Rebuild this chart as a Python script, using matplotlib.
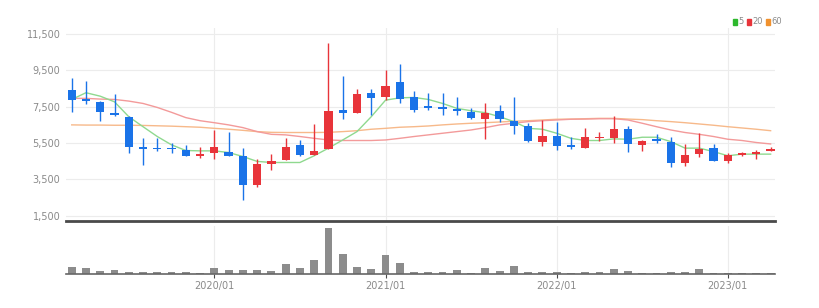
import matplotlib
matplotlib.use("Agg")
import matplotlib.pyplot as plt
from matplotlib.patches import Rectangle

months = ["2019/%02d" % m for m in range(3, 13)] + \
         ["2020/%02d" % m for m in range(1, 13)] + \
         ["2021/%02d" % m for m in range(1, 13)] + \
         ["2022/%02d" % m for m in range(1, 13)] + \
         ["2023/%02d" % m for m in range(1, 5)]

opens = [8400, 7900, 7760, 7160, 6940, 5260, 5210, 5210, 5115, 4790,
         4930, 4990, 4790, 3160, 4330, 4530, 5390, 4840, 5150, 7310,
         7160, 8220, 8000, 8860, 8040, 7510, 7490, 7360, 7220, 6800,
         7270, 6720, 6430, 5570, 5880, 5370, 5240, 5750, 5750, 6270,
         5390, 5700, 5570, 4390, 4900, 5210, 4480, 4840, 4880, 5060]
highs = [9080, 8900, 7800, 8170, 6980, 5750, 5750, 5480, 5390, 5260,
         6210, 6080, 5240, 4600, 4880, 5750, 5660, 6540, 11010, 9170,
         8490, 8460, 9500, 9860, 8350, 8270, 8220, 8040, 7400, 7670,
         7580, 8000, 6580, 6760, 6630, 5850, 6300, 6120, 6980, 6430,
         5660, 5990, 5850, 5440, 6070, 5440, 4930, 5020, 5120, 5260]
lows = [7215, 7635, 6720, 7000, 4930, 4260, 5080, 4930, 4750, 4660,
        4600, 4790, 2380, 3050, 4020, 4530, 4750, 4840, 5150, 6800,
        7160, 7030, 7855, 7670, 7220, 7310, 7030, 7030, 6810, 5720,
        6630, 6000, 5540, 5330, 5120, 5150, 5240, 5630, 5480, 5020,
        5080, 5480, 4170, 4240, 4710, 4480, 4390, 4750, 4600, 5060]
closes = [7855, 7820, 7215, 7030, 5260, 5190, 5150, 5150, 4790, 4900,
          5260, 4790, 3200, 4350, 4510, 5300, 4840, 5060, 7270, 7160,
          8180, 7950, 8640, 7910, 7310, 7430, 7380, 7270, 6850, 7120,
          6810, 6450, 5610, 5880, 5330, 5300, 5810, 5850, 6270, 5440,
          5630, 5630, 4390, 4840, 5150, 4480, 4840, 4930, 5020, 5150]
volumes = [200, 180, 100, 110, 70, 70, 50, 50, 50, 30,
           180, 110, 110, 110, 90, 290, 190, 410, 1370, 610,
           200, 150, 560, 330, 70, 70, 50, 120, 40, 190,
           80, 250, 60, 60, 50, 30, 50, 50, 150, 80,
           30, 30, 50, 60, 140, 40, 30, 30, 30, 30]

ma5 = [7890, 8260, 8070, 7760, 6940, 6390, 5850, 5390, 5080, 5060,
       5060, 4970, 4750, 4480, 4420, 4420, 4420, 4790, 5210, 5660,
       6120, 6940, 7850, 7980, 8000, 7890, 7670, 7400, 7270, 7160,
       6940, 6670, 6300, 6250, 6030, 5750, 5630, 5630, 5720, 5700,
       5810, 5810, 5570, 5210, 5210, 5020, 4790, 4880, 4880, 4880]
ma20 = [7950, 7950, 7910, 7890, 7800, 7670, 7450, 7180, 6890, 6720,
        6610, 6490, 6340, 6120, 5970, 5940, 5850, 5750, 5660, 5630,
        5630, 5630, 5660, 5750, 5850, 5940, 6030, 6120, 6210, 6340,
        6490, 6580, 6670, 6720, 6760, 6800, 6810, 6830, 6830, 6760,
        6580, 6390, 6210, 6070, 5970, 5850, 5700, 5630, 5520, 5440]
ma60 = [6490, 6480, 6480, 6470, 6470, 6460, 6440, 6420, 6390, 6360,
        6300, 6250, 6190, 6120, 6080, 6070, 6070, 6070, 6080, 6120,
        6170, 6250, 6300, 6360, 6390, 6430, 6490, 6540, 6580, 6610,
        6650, 6690, 6720, 6760, 6800, 6810, 6830, 6850, 6850, 6810,
        6780, 6720, 6670, 6610, 6540, 6470, 6390, 6320, 6250, 6170]

price_ticks = [1500, 3500, 5500, 7500, 9500, 11500]
year_labels = ["2020/01", "2021/01", "2022/01", "2023/01"]
ma_labels = ["5", "20", "60"]

up_c = "#e8343a"
down_c = "#1a73e8"
grid_c = "#ececec"
text_c = "#8a8a8a"
font = ["Liberation Sans Narrow", "DejaVu Sans"]
W, H = 820, 308

x = list(range(len(months)))
year_pos = [months.index(m) for m in year_labels]

fig = plt.figure(figsize=(8.2, 3.08), dpi=100)
ax = fig.add_axes([0.0805, 0.2825, 0.8645, 0.627])
axv = fig.add_axes([0.0805, 0.110, 0.8645, 0.156])

# price grid
for v in price_ticks:
    ax.axhline(v, color=grid_c, lw=0.8, zorder=0)
for p in year_pos:
    ax.axvline(p, color=grid_c, lw=0.8, zorder=0)

# moving averages
ax.plot(x, ma60, color="#f7b98a", lw=1.0, zorder=1)
ax.plot(x, ma20, color="#f39a9a", lw=1.0, zorder=1)
ax.plot(x, ma5, color="#8fd98f", lw=1.0, zorder=1)

# candles
for i in x:
    o, c = opens[i], closes[i]
    col = up_c if c >= o else down_c
    ax.vlines(i, lows[i], highs[i], color=col, lw=1.0, zorder=2)
    h = max(abs(c - o), 60)
    ax.bar(i, h, bottom=min(o, c), width=0.58, color=col, zorder=3)

ax.set_xlim(-0.4, 49.3)
ax.set_ylim(1200, 11830)
ax.set_yticks(price_ticks)
ax.set_yticklabels(["{:,}".format(v) for v in price_ticks], color=text_c,
                   fontsize=7, family=font)
ax.tick_params(axis="y", length=0, pad=4)
ax.set_xticks([])
for s in ["top", "right", "left"]:
    ax.spines[s].set_visible(False)
ax.spines["bottom"].set_color("#4a4a4a")
ax.spines["bottom"].set_linewidth(2)

# legend (pixel positions)
leg_cols = ["#2db82d", "#e8343a", "#f0912e"]
lx = 733
for lab, col in zip(ma_labels, leg_cols):
    fig.patches.append(Rectangle((lx / W, 1 - 25 / H), 4 / W, 6 / H,
                                 transform=fig.transFigure, color=col))
    fig.text((lx + 5) / W, 1 - 22 / H, lab, color=text_c, fontsize=6,
             va="center", ha="left", family=font)
    lx += 5 + 5 * len(lab) + 4

# volume
for p in year_pos:
    axv.axvline(p, color=grid_c, lw=0.8, zorder=0)
axv.bar(x, volumes, width=0.55, color="#8c8c8c", zorder=2)
axv.set_xlim(-0.4, 49.3)
axv.set_ylim(0, max(volumes) * 48 / 45.7)
axv.set_yticks([])
axv.set_xticks(year_pos)
axv.set_xticklabels(year_labels, color=text_c, fontsize=7, family=font)
axv.tick_params(axis="x", length=3, color="#4a4a4a", pad=2)
for s in ["top", "right", "left"]:
    axv.spines[s].set_visible(False)
axv.spines["bottom"].set_color("#666666")
axv.spines["bottom"].set_linewidth(1.2)

fig.savefig("out.png", dpi=100, facecolor="white")
